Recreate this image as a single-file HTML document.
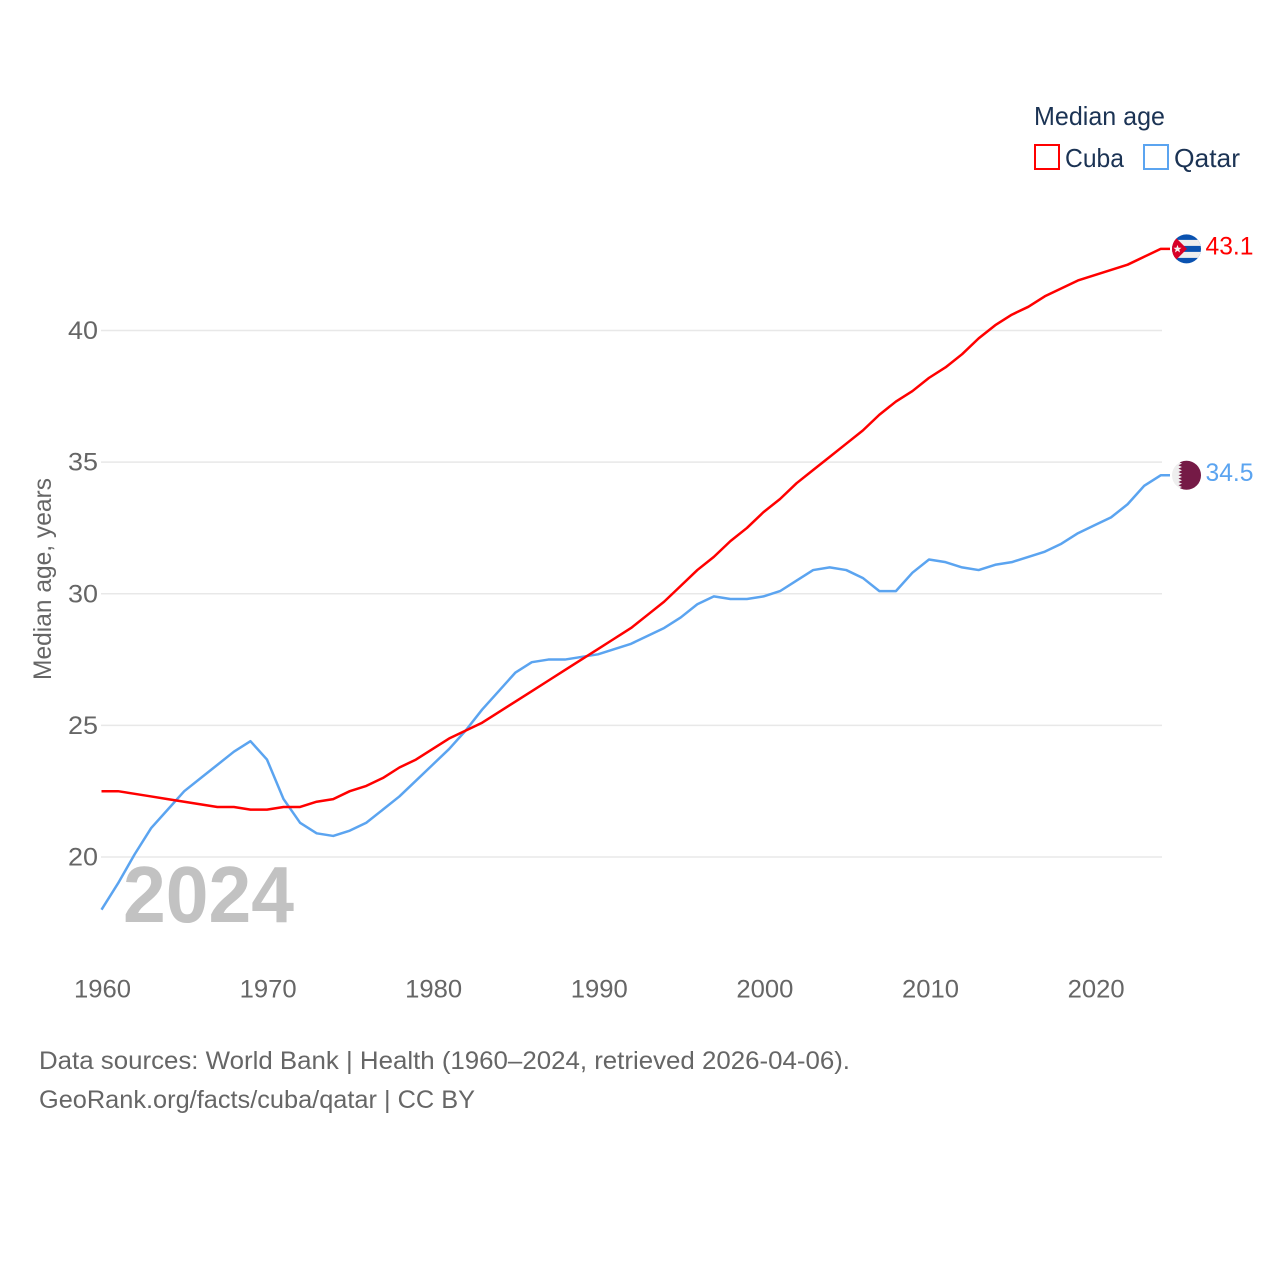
<!DOCTYPE html>
<html lang="en">
<head>
<meta charset="utf-8">
<title>Median age: Cuba and Qatar</title>
<style>
html,body{margin:0;padding:0;background:#fff;width:1280px;height:1280px;overflow:hidden}
svg{display:block}
text{font-family:"Liberation Sans",sans-serif}
.tick{font-size:25px;fill:#666}
.foot{font-size:25px;fill:#666}
.leg{font-size:26px;fill:#1b3354}
</style>
</head>
<body>
<svg id="chart" width="1280" height="1280" viewBox="0 0 1280 1280" xmlns="http://www.w3.org/2000/svg">
  <defs>
    <clipPath id="cuba-clip"><circle cx="0" cy="0" r="14.5"></circle></clipPath>
    <clipPath id="qatar-clip"><circle cx="0" cy="0" r="14.5"></circle></clipPath>
  </defs>
  <g id="grid"></g>
  <g id="y-ticks"></g>
  <g id="x-ticks"></g>
  <text transform="translate(51,680) rotate(-90)" font-size="25" fill="#666" textLength="202" lengthAdjust="spacingAndGlyphs">Median age, years</text>
  <text x="123" y="922" font-size="80" font-weight="700" fill="#c2c2c2" textLength="171" lengthAdjust="spacingAndGlyphs">2024</text>
  <path id="line-qatar" fill="none" stroke="#5ba4f0" stroke-width="2.5" stroke-linejoin="round"></path>
  <path id="line-cuba" fill="none" stroke="#ff0000" stroke-width="2.5" stroke-linejoin="round"></path>

  <g id="flag-cuba">
    <g clip-path="url(#cuba-clip)">
      <rect x="-15" y="-15" width="30" height="30" fill="#0a52b0"></rect>
      <rect x="-15" y="-9" width="30" height="6" fill="#eeeeee"></rect>
      <rect x="-15" y="3" width="30" height="6" fill="#eeeeee"></rect>
      <polygon points="-15.5,-16 0.5,0 -15.5,16" fill="#d80027"></polygon>
      <polygon points="-9,-4 -7.9,-1.2 -5,-1.2 -7.3,0.7 -6.4,3.6 -9,1.9 -11.6,3.6 -10.7,0.7 -13,-1.2 -10.1,-1.2" fill="#f4f4f4"></polygon>
    </g>
  </g>
  <g id="flag-qatar">
    <g clip-path="url(#qatar-clip)">
      <rect x="-15" y="-15" width="30" height="30" fill="#eeeeee"></rect>
      <polygon points="-4.5,-15 -8,-13.3 -4.5,-11.7 -8,-10 -4.5,-8.3 -8,-6.7 -4.5,-5 -8,-3.3 -4.5,-1.7 -8,0 -4.5,1.7 -8,3.3 -4.5,5 -8,6.7 -4.5,8.3 -8,10 -4.5,11.7 -8,13.3 -4.5,15 15,15 15,-15" fill="#751a46"></polygon>
    </g>
  </g>
  <text id="value-cuba" font-size="25" fill="#ff0000" textLength="48" lengthAdjust="spacingAndGlyphs"></text>
  <text id="value-qatar" font-size="25" fill="#5ba4f0" textLength="48" lengthAdjust="spacingAndGlyphs"></text>

  <g>
    <text class="leg" x="1034" y="125" textLength="131" lengthAdjust="spacingAndGlyphs">Median age</text>
    <rect x="1035" y="145" width="24" height="24" fill="#fff" stroke="#ff0000" stroke-width="2"></rect>
    <text class="leg" x="1065" y="167" textLength="59" lengthAdjust="spacingAndGlyphs">Cuba</text>
    <rect x="1144" y="145" width="24" height="24" fill="#fff" stroke="#5ba4f0" stroke-width="2"></rect>
    <text class="leg" x="1174" y="167" textLength="66" lengthAdjust="spacingAndGlyphs">Qatar</text>
  </g>

  <text class="foot" x="39" y="1069" textLength="811" lengthAdjust="spacingAndGlyphs">Data sources: World Bank | Health (1960–2024, retrieved 2026-04-06).</text>
  <text class="foot" x="39" y="1108" textLength="436" lengthAdjust="spacingAndGlyphs">GeoRank.org/facts/cuba/qatar | CC BY</text>
</svg>
<script>
const startYear = 1960;
const xTickLabels = [1960, 1970, 1980, 1990, 2000, 2010, 2020];
const yTickLabels = [20, 25, 30, 35, 40];
const cubaValues = [22.5,22.5,22.4,22.3,22.2,22.1,22.0,21.9,21.9,21.8,21.8,21.9,21.9,22.1,22.2,22.5,22.7,23.0,23.4,23.7,24.1,24.5,24.8,25.1,25.5,25.9,26.3,26.7,27.1,27.5,27.9,28.3,28.7,29.2,29.7,30.3,30.9,31.4,32.0,32.5,33.1,33.6,34.2,34.7,35.2,35.7,36.2,36.8,37.3,37.7,38.2,38.6,39.1,39.7,40.2,40.6,40.9,41.3,41.6,41.9,42.1,42.3,42.5,42.8,43.1];
const qatarValues = [18.0,19.0,20.1,21.1,21.8,22.5,23.0,23.5,24.0,24.4,23.7,22.2,21.3,20.9,20.8,21.0,21.3,21.8,22.3,22.9,23.5,24.1,24.8,25.6,26.3,27.0,27.4,27.5,27.5,27.6,27.7,27.9,28.1,28.4,28.7,29.1,29.6,29.9,29.8,29.8,29.9,30.1,30.5,30.9,31.0,30.9,30.6,30.1,30.1,30.8,31.3,31.2,31.0,30.9,31.1,31.2,31.4,31.6,31.9,32.3,32.6,32.9,33.4,34.1,34.5];

const SVG_NS = 'http://www.w3.org/2000/svg';
function xScale(year) { return 101.5 + (year - 1960) * 16.55; }
function xLabelScale(year) { return 102.5 + (year - 1960) * 16.56; }
function yScale(value) { return 857 - (value - 20) * (857 - 330.5) / 20; }

const gridGroup = document.getElementById('grid');
const yTickGroup = document.getElementById('y-ticks');
const xTickGroup = document.getElementById('x-ticks');

yTickLabels.forEach(function (v) {
  const gridLine = document.createElementNS(SVG_NS, 'line');
  gridLine.setAttribute('x1', 101);
  gridLine.setAttribute('x2', 1162);
  gridLine.setAttribute('y1', yScale(v));
  gridLine.setAttribute('y2', yScale(v));
  gridLine.setAttribute('stroke', '#e8e8e8');
  gridLine.setAttribute('stroke-width', '1.5');
  
  
  gridGroup.appendChild(gridLine);

  const label = document.createElementNS(SVG_NS, 'text');
  label.setAttribute('class', 'tick');
  label.setAttribute('x', 68);
  label.setAttribute('y', yScale(v) + 8.5);
  label.setAttribute('textLength', 30);
  label.setAttribute('lengthAdjust', 'spacingAndGlyphs');
  
  
  label.textContent = v;
  yTickGroup.appendChild(label);
});

xTickLabels.forEach(function (year) {
  const label = document.createElementNS(SVG_NS, 'text');
  label.setAttribute('class', 'tick');
  label.setAttribute('x', xLabelScale(year) - 28.5);
  label.setAttribute('y', 997.5);
  label.setAttribute('textLength', 57);
  label.setAttribute('lengthAdjust', 'spacingAndGlyphs');
  
  
  label.textContent = year;
  xTickGroup.appendChild(label);
});

const flagX = 1186.5;
const connectorEndX = 1170;
function linePath(values) {
  let d = '';
  values.forEach(function (v, i) {
    d += (i === 0 ? 'M' : 'L') + xScale(startYear + i).toFixed(2) + ' ' + yScale(v).toFixed(2);
  });
  d += 'L' + connectorEndX + ' ' + yScale(values[values.length - 1]).toFixed(2);
  return d;
}
document.getElementById('line-cuba').setAttribute('d', linePath(cubaValues));
document.getElementById('line-qatar').setAttribute('d', linePath(qatarValues));

function placeEnd(flagId, valueId, values) {
  const last = values[values.length - 1];
  const y = yScale(last);
  document.getElementById(flagId).setAttribute('transform', 'translate(' + flagX + ',' + y + ')');
  const label = document.getElementById(valueId);
  label.setAttribute('x', 1205.5);
  label.setAttribute('y', y + 5.5);
  label.textContent = last.toFixed(1);
}
placeEnd('flag-cuba', 'value-cuba', cubaValues);
placeEnd('flag-qatar', 'value-qatar', qatarValues);
</script>
</body>
</html>
